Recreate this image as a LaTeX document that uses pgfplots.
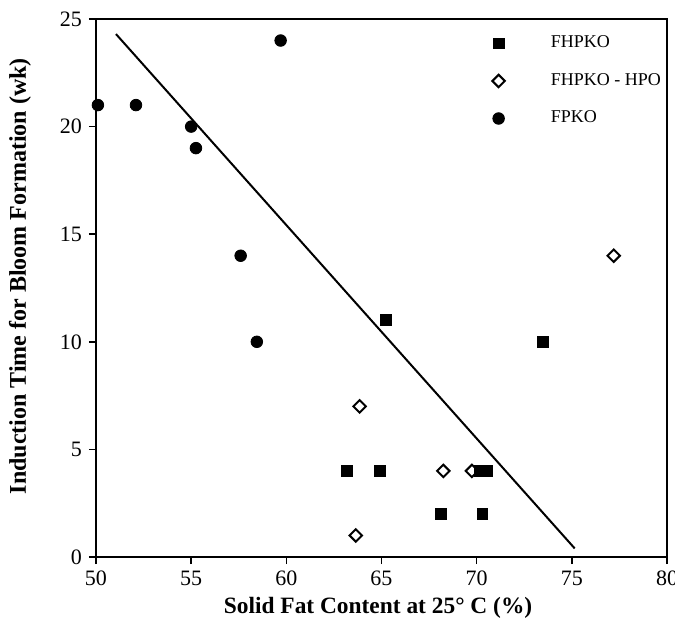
\documentclass[border=0pt]{standalone}
\usepackage{pgfplots}
\pgfplotsset{compat=1.18}
\usepackage{fontspec}
\setmainfont{Liberation Serif}

\begin{document}
\begin{tikzpicture}
\begin{axis}[
    scale only axis,
    width=285.5pt,
    height=269pt,
    xmin=50, xmax=80,
    ymin=0, ymax=25,
    xtick={50,55,...,80},
    ytick={0,5,...,25},
    tick align=outside,
    xtick pos=bottom,
    ytick pos=left,
    major tick length=3.5pt,
    axis line style={line width=1pt},
    tick style={line width=0.8pt,black},
    /pgf/number format/assume math mode=true,
    tick label style={font=\fontsize{11}{13}\selectfont},
    xlabel={Solid Fat Content at 25° C (\%)},
    ylabel={Induction Time for Bloom Formation (wk)},
    xlabel style={font=\bfseries\fontsize{11.7}{14}\selectfont,
        at={(axis description cs:0.494,-0.095)},anchor=center},
    ylabel style={font=\bfseries\fontsize{12}{14}\selectfont,
        at={(axis description cs:-0.133,0.522)},anchor=center,rotate=0},
    legend style={draw=none,fill=none,font=\fontsize{9}{11}\selectfont,
        at={(rel axis cs:0.683,0.984)},anchor=north west,
        row sep=7.3pt,
        /tikz/every odd column/.append style={column sep=21pt}},
    legend cell align={left},
]
% FHPKO
\addplot[only marks,mark=square*,mark size=2.7pt,black] coordinates {
(63.2,4) (64.9,4) (65.25,11) (68.1,2) (70.3,2) (70.15,4) (70.55,4) (73.5,10)};
\addlegendentry{FHPKO}
% FHPKO - HPO
\addplot[only marks,mark=square,mark size=2.2pt,mark options={rotate=45},black,line width=1pt] coordinates {
(63.85,7) (68.25,4) (63.65,1) (77.2,14) (69.75,4)};
\addlegendentry{FHPKO - HPO}
% FPKO
\addplot[only marks,mark=*,mark size=2.9pt,black] coordinates {
(50.1,21) (52.1,21) (55.0,20) (55.25,19) (57.6,14) (58.45,10) (59.7,24)};
\addlegendentry{FPKO}
% regression line
\addplot[black,line width=1pt,no markers,forget plot] coordinates {(51.05,24.3) (75.15,0.4)};
\end{axis}
\pgfresetboundingbox
\path[use as bounding box] ([shift={(-48pt,-38.5pt)}]current axis.south west)
    rectangle ([shift={(289.5pt,278.5pt)}]current axis.south west);
\end{tikzpicture}
\end{document}
